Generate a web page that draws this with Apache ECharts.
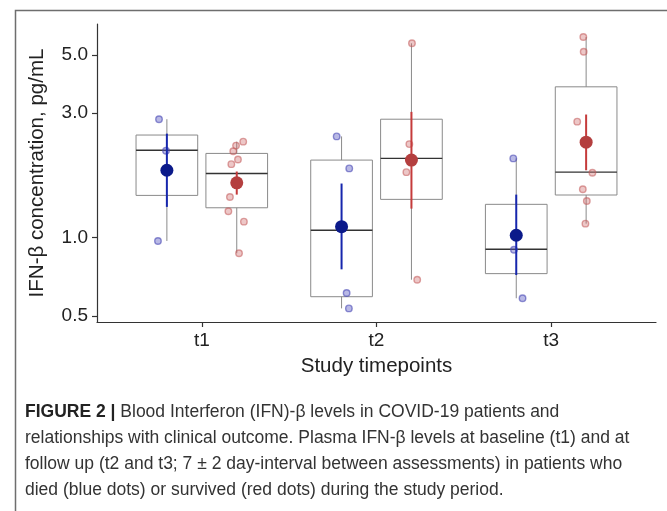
<!DOCTYPE html>
<html style="height: 100%">
    <head>
        <title>IFN-beta levels</title>
        <meta charset="utf-8">
    </head>
    <body style="height: 100%; margin: 0; background: #fff">
        <div id="container" style="width: 667px; height: 511px"></div>

        <script type="text/javascript" src="https://cdn.jsdelivr.net/npm/echarts@6.0.0/dist/echarts.min.js"></script>
        <script type="text/javascript">
            var categories = ['t1', 't2', 't3'];
            var yTicks = [0.5, 1.0, 3.0, 5.0];

            // individual patients, [jittered x position, IFN-b pg/mL]
            var diedPoints = [
                [0.755, 2.84], [0.795, 2.15], [0.749, 0.97],
                [1.772, 2.44], [1.844, 1.84], [1.829, 0.613], [1.842, 0.535],
                [2.783, 2.01], [2.787, 0.898], [2.836, 0.585]
            ];
            var survivedPoints = [
                [1.237, 2.33], [1.196, 2.25], [1.180, 2.14], [1.207, 1.99], [1.169, 1.91],
                [1.196, 1.62], [1.161, 1.43], [1.152, 1.26], [1.241, 1.15], [1.213, 0.87],
                [2.203, 5.55], [2.188, 2.28], [2.171, 1.78], [2.233, 0.689],
                [3.184, 5.87], [3.186, 5.15], [3.149, 2.78], [3.236, 1.77], [3.181, 1.53],
                [3.204, 1.38], [3.196, 1.13]
            ];

            // box stats per timepoint: [low, q1, median, q3, high]
            var diedBox = [[0.97, 1.45, 2.16, 2.47, 2.84], [0.535, 0.593, 1.066, 1.98, 2.44], [0.585, 0.727, 0.901, 1.34, 2.01]];
            var survivedBox = [[0.87, 1.30, 1.76, 2.10, 2.33], [0.689, 1.40, 2.01, 2.84, 5.55], [1.13, 1.455, 1.78, 3.78, 5.87]];

            // mean and error bar per timepoint
            var diedMean = [1.81, 1.10, 1.02];
            var diedErr = [[1.31, 2.50], [0.755, 1.61], [0.718, 1.46]];
            var survivedMean = [1.62, 1.98, 2.32];
            var survivedErr = [[1.46, 1.79], [1.29, 3.03], [1.81, 2.96]];

            var dodge = 0.2;
            var boxWidth = 0.353;

            var dom = document.getElementById('container');
            var myChart = echarts.init(dom);

            function boxData(stats, offset) {
                return stats.map(function (s, i) {
                    return [i + 1 + offset].concat(s);
                });
            }
            function meanData(means, offset) {
                return means.map(function (m, i) {
                    return [i + 1 + offset, m];
                });
            }
            function errData(errs, offset) {
                return errs.map(function (e, i) {
                    return [i + 1 + offset, e[0], e[1]];
                });
            }

            function renderBox(params, api) {
                var x = api.value(0);
                var lo = api.coord([x, api.value(1)]);
                var q1 = api.coord([x, api.value(2)]);
                var md = api.coord([x, api.value(3)]);
                var q3 = api.coord([x, api.value(4)]);
                var hi = api.coord([x, api.value(5)]);
                var half = api.coord([x + boxWidth / 2, api.value(3)])[0] - md[0];
                var grey = { stroke: '#8a8a8a', lineWidth: 1, fill: null };
                return {
                    type: 'group',
                    children: [
                        { type: 'line', shape: { x1: lo[0], y1: lo[1], x2: q1[0], y2: q1[1] }, style: grey },
                        { type: 'line', shape: { x1: q3[0], y1: q3[1], x2: hi[0], y2: hi[1] }, style: grey },
                        { type: 'rect', shape: { x: md[0] - half, y: q3[1], width: half * 2, height: q1[1] - q3[1] },
                          style: { stroke: '#8a8a8a', lineWidth: 1, fill: 'rgba(255,255,255,0)' } },
                        { type: 'line', shape: { x1: md[0] - half, y1: md[1], x2: md[0] + half, y2: md[1] },
                          style: { stroke: '#333', lineWidth: 1.4 } }
                    ]
                };
            }

            function errRenderer(color) {
                return function (params, api) {
                    var a = api.coord([api.value(0), api.value(1)]);
                    var b = api.coord([api.value(0), api.value(2)]);
                    return {
                        type: 'line',
                        shape: { x1: a[0], y1: a[1], x2: b[0], y2: b[1] },
                        style: { stroke: color, lineWidth: 2 }
                    };
                };
            }

            var axisColor = '#333';
            var font = 'Liberation Sans';
            var capStyle = { fontSize: 17.5, fontFamily: font, fill: '#333' };
            var option = {
                animation: false,
                grid: { left: 97, right: 11, top: 24, bottom: 189 },
                xAxis: {
                    type: 'value',
                    min: 0.4,
                    max: 3.6,
                    name: 'Study timepoints',
                    nameLocation: 'middle',
                    nameGap: 34,
                    nameTextStyle: { fontSize: 20.5, color: '#222', fontFamily: font },
                    axisLine: { show: true, onZero: false, lineStyle: { color: axisColor, width: 1.2 } },
                    axisTick: { show: true, length: 5, customValues: [1, 2, 3], lineStyle: { color: axisColor, width: 1.2 } },
                    axisLabel: {
                        customValues: [1, 2, 3],
                        margin: 9,
                        fontSize: 19,
                        color: '#222',
                        fontFamily: font,
                        formatter: function (v) { return categories[Math.round(v) - 1]; }
                    },
                    splitLine: { show: false }
                },
                yAxis: {
                    type: 'log',
                    logBase: 10,
                    min: 0.4744,
                    max: 6.58,
                    name: 'IFN-\u03b2 concentration, pg/mL',
                    nameLocation: 'middle',
                    nameGap: 49,
                    nameTextStyle: { fontSize: 20.5, color: '#222', fontFamily: font },
                    axisLine: { show: true, onZero: false, lineStyle: { color: axisColor, width: 1.2 } },
                    axisTick: { show: true, length: 5, customValues: yTicks, lineStyle: { color: axisColor, width: 1.2 } },
                    axisLabel: {
                        customValues: yTicks,
                        margin: 9,
                        fontSize: 19,
                        color: '#222',
                        fontFamily: font,
                        formatter: function (v) { return Number(v).toFixed(1); }
                    },
                    splitLine: { show: false },
                    minorTick: { show: false }
                },
                series: [
                    { type: 'custom', renderItem: renderBox, data: boxData(diedBox, -dodge), encode: { x: 0, y: [1, 2, 3, 4, 5] }, z: 1 },
                    { type: 'custom', renderItem: renderBox, data: boxData(survivedBox, dodge), encode: { x: 0, y: [1, 2, 3, 4, 5] }, z: 1 },
                    {
                        type: 'scatter', data: diedPoints, symbolSize: 6.5, z: 2,
                        itemStyle: { color: 'rgba(80,80,190,0.5)', borderColor: 'rgba(70,70,180,0.75)', borderWidth: 1.4 }
                    },
                    {
                        type: 'scatter', data: survivedPoints, symbolSize: 6.5, z: 2,
                        itemStyle: { color: 'rgba(205,100,100,0.45)', borderColor: 'rgba(195,90,90,0.7)', borderWidth: 1.4 }
                    },
                    { type: 'custom', renderItem: errRenderer('#1626ad'), data: errData(diedErr, -dodge), encode: { x: 0, y: [1, 2] }, z: 3 },
                    { type: 'custom', renderItem: errRenderer('#c53b3b'), data: errData(survivedErr, dodge), encode: { x: 0, y: [1, 2] }, z: 3 },
                    { type: 'scatter', data: meanData(diedMean, -dodge), symbolSize: 13, z: 4, itemStyle: { color: '#0b1a8a', opacity: 1 } },
                    { type: 'scatter', data: meanData(survivedMean, dodge), symbolSize: 13, z: 4, itemStyle: { color: '#b43f3f', opacity: 1 } }
                ],
                graphic: [
                    {
                        type: 'rect', left: 13, top: 8, silent: true, z: -1,
                        shape: { width: 720, height: 620 },
                        style: { fill: null, stroke: '#6e6e6e', lineWidth: 1.5 }
                    },
                    {
                        type: 'group', left: 25, top: 403,
                        children: [
                            { type: 'text', x: 0, y: 0, style: echarts.util.extend({
                                text: '{b|FIGURE 2 |} Blood Interferon (IFN)-\u03b2 levels in COVID-19 patients and',
                                rich: { b: { fontWeight: 'bold', fontSize: 17.5, fontFamily: font, fill: '#222' } } }, capStyle) },
                            { type: 'text', x: 0, y: 26, style: echarts.util.extend({
                                text: 'relationships with clinical outcome. Plasma IFN-\u03b2 levels at baseline (t1) and at' }, capStyle) },
                            { type: 'text', x: 0, y: 52, style: echarts.util.extend({
                                text: 'follow up (t2 and t3; 7 \u00b1 2 day-interval between assessments) in patients who' }, capStyle) },
                            { type: 'text', x: 0, y: 78, style: echarts.util.extend({
                                text: 'died (blue dots) or survived (red dots) during the study period.' }, capStyle) }
                        ]
                    }
                ]
            };

            myChart.setOption(option);
            window.onresize = function () {
                myChart.resize();
            };
        </script>
    </body>
</html>
